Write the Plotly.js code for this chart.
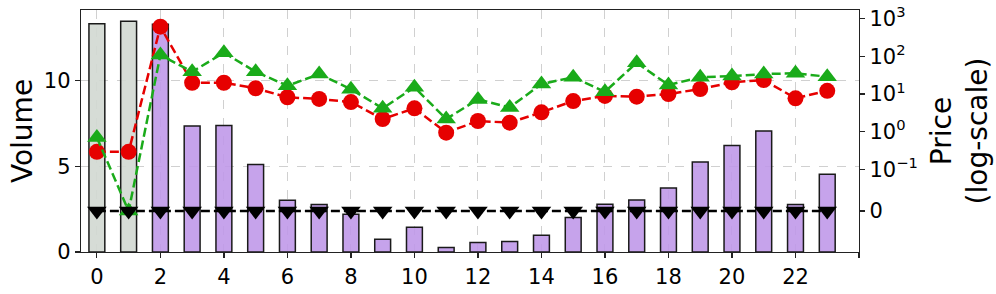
<!DOCTYPE html>
<html>
<head>
<meta charset="utf-8">
<script src="https://cdn.plot.ly/plotly-3.0.1.min.js"></script>
<style>html,body{margin:0;padding:0;background:#fff;}#chart{width:996px;height:294px;}</style>
</head>
<body>
<div id="chart"></div>
<script>
// ---- data ----
const hours = [0,1,2,3,4,5,6,7,8,9,10,11,12,13,14,15,16,17,18,19,20,21,22,23];
const volume = [13.32,13.47,13.3,7.35,7.39,5.11,3.02,2.77,2.2,0.74,1.44,0.26,0.55,0.61,0.98,2.01,2.79,3.04,3.74,5.25,6.22,7.06,2.78,4.54];
const priceRed = [0.29,0.29,618,20,20,14.2,8.2,7.4,6.1,2.17,4.17,0.94,1.92,1.73,3.27,6.5,8.9,8.5,10,13.6,20.5,23.6,7.7,12.2];
const priceGreen = [0.70,0,109,39,126,39,16.6,34,13.4,4.17,15.1,2.17,7.2,4.4,18.5,27.9,11.5,68,17.4,27.9,30,34,35.6,28.9];
const priceBlack = [0,0,0,0,0,0,0,0,0,0,0,0,0,0,0,0,0,0,0,0,0,0,0,0];
const xTickVals = [0,2,4,6,8,10,12,14,16,18,20,22,24];
const xTickText = ['0','2','4','6','8','10','12','14','16','18','20','22',''];
const priceTickVals = [0,0.1,1,10,100,1000];
const priceTickText = ['0','10<sup>\u22121</sup>','10<sup>0</sup>','10<sup>1</sup>','10<sup>2</sup>','10<sup>3</sup>'];

// symmetric log transform (linthresh 0.1, linscale 1, base 10), in decade units
const LT = 0.1, LS = 1/(1-1/10);
function symlog(v){
  const a = Math.abs(v);
  if (a <= LT) return v/LT*LS;
  return Math.sign(v)*(LS + Math.log10(a/LT));
}

const barColors = hours.map(h => h < 2 ? 'rgba(210,216,210,0.9)' : 'rgba(190,150,232,0.88)');

const dashPat = '9px,4px';
const traces = [
  {type:'bar', x:hours, y:volume, width:0.5, marker:{color:barColors, line:{color:'#1a1a1a', width:1.5}}, yaxis:'y', showlegend:false},
  {type:'scatter', mode:'lines+markers', x:hours, y:priceRed.map(symlog), yaxis:'y2',
   line:{color:'#e60000', width:2.5, dash:dashPat}, marker:{symbol:'circle', size:16, color:'#e60000'}, showlegend:false},
  {type:'scatter', mode:'lines+markers', x:hours, y:priceGreen.map(symlog), yaxis:'y2',
   line:{color:'#1aab1a', width:2.5, dash:dashPat}, marker:{symbol:'triangle-up', size:17, color:'#1aab1a'}, showlegend:false},
  {type:'scatter', mode:'lines+markers', x:hours, y:priceBlack.map(symlog), yaxis:'y2',
   line:{color:'#000', width:2.5, dash:dashPat}, marker:{symbol:'triangle-down', size:17, color:'#000'}, showlegend:false}
];

const font = {family:'DejaVu Sans, sans-serif', size:21, color:'#000'};
const layout = {
  width:996, height:294,
  margin:{l:81, r:137, t:10, b:42},
  paper_bgcolor:'#fff', plot_bgcolor:'#fff',
  font:font,
  showlegend:false,
  xaxis:{range:[-0.5,24], tickvals:xTickVals, ticktext:xTickText, ticks:'outside', ticklen:5, tickwidth:1.2, tickcolor:'#222',
    showgrid:true, gridcolor:'#d0d0d0', griddash:'dash', gridwidth:1, zeroline:false,
    showline:true, linecolor:'#222', linewidth:1.3, mirror:true, tickfont:{size:21}},
  yaxis:{range:[0,14.13], tickvals:[0,5,10], ticks:'outside', ticklen:5, tickwidth:1.2, tickcolor:'#222',
    showgrid:true, gridcolor:'#d0d0d0', griddash:'dash', gridwidth:1, zeroline:false,
    showline:true, linecolor:'#222', linewidth:1.3, tickfont:{size:21}},
  yaxis2:{overlaying:'y', side:'right', range:[-1.09,5.346], tickvals:priceTickVals.map(symlog), ticktext:priceTickText,
    ticks:'outside', ticklen:5, tickwidth:1.2, tickcolor:'#222', showgrid:false, zeroline:false,
    showline:true, linecolor:'#222', linewidth:1.3, tickfont:{size:21},
    title:{text:'Price<br>(log-scale)', font:{size:28}, standoff:14}},
  annotations:[{text:'Volume', xref:'paper', yref:'paper', x:-0.0758, y:0.5, xanchor:'center', yanchor:'middle',
    textangle:-90, showarrow:false, font:{size:28, family:'DejaVu Sans, sans-serif', color:'#000'}}]
};
Plotly.newPlot('chart', traces, layout, {staticPlot:true, displayModeBar:false});
</script>
</body>
</html>
